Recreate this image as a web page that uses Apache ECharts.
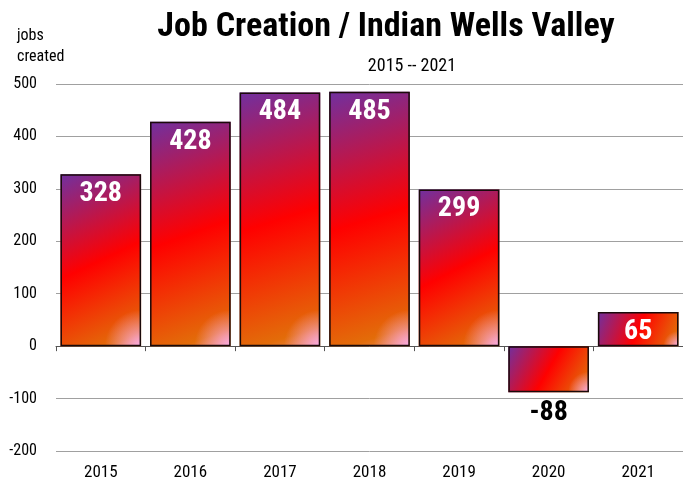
<!DOCTYPE html>
<html>
<head>
<meta charset="utf-8">
<script src="https://cdn.jsdelivr.net/npm/echarts@6/dist/echarts.min.js"></script>
<style>
  html, body { margin: 0; padding: 0; background: #fff; }
  #chart { width: 683px; height: 483px; }
</style>
</head>
<body>
<div id="chart"></div>
<script>
// 数据
const years = ['2015', '2016', '2017', '2018', '2019', '2020', '2021'];
const jobs = [328, 428, 484, 485, 299, -88, 65];
const yTicks = [-200, 500, 100]; // min, max, interval

const narrow = "'Roboto Condensed', 'Liberation Sans Narrow', 'Arial Narrow', sans-serif";

// 柱子底色：紫 -> 红 -> 橙（沿对角线）
const barFill = new echarts.graphic.LinearGradient(0, 0, 1, 1, [
  { offset: 0, color: '#7030a0' },
  { offset: 0.5, color: '#ff0000' },
  { offset: 0.93, color: '#e36c09' },
  { offset: 1, color: '#e98a50' }
]);

// 右下角的粉色光晕
const glow = new echarts.graphic.RadialGradient(1, 1, 0.45, [
  { offset: 0, color: 'rgba(250,170,228,1)' },
  { offset: 0.5, color: 'rgba(250,170,228,0.5)' },
  { offset: 1, color: 'rgba(250,170,228,0)' }
]);

const myChart = echarts.init(document.getElementById('chart'));

const option = {
  animation: false,
  title: [
    {
      text: 'Job Creation / Indian Wells Valley',
      left: 381, top: 5, textAlign: 'center',
      textStyle: { fontFamily: narrow, fontWeight: 'bold', fontSize: 34, color: '#000' }
    },
    {
      text: '2015 -- 2021',
      left: 407, top: 52, textAlign: 'center',
      textStyle: { fontFamily: narrow, fontWeight: 'normal', fontSize: 18, color: '#000' }
    },
    {
      text: 'jobs\ncreated',
      left: 12, top: 20,
      textStyle: { fontFamily: narrow, fontWeight: 'normal', fontSize: 16, lineHeight: 21, color: '#000' }
    }
  ],
  grid: { left: 56, right: 0, top: 84, bottom: 32, containLabel: false },
  xAxis: {
    type: 'category',
    data: years,
    axisLine: { onZero: true, lineStyle: { color: '#555', width: 1 } },
    axisTick: { show: true, inside: false, length: 5, lineStyle: { color: '#555' } },
    axisLabel: { color: '#000', fontFamily: narrow, fontSize: 17, margin: 13 }
  },
  yAxis: {
    type: 'value',
    min: yTicks[0], max: yTicks[1], interval: yTicks[2],
    axisLine: { show: false },
    axisTick: { show: false },
    axisLabel: { color: '#000', fontFamily: narrow, fontSize: 16, margin: 19 },
    splitLine: { lineStyle: { color: '#a0a0a0', width: 1 } }
  },
  series: [
    {
      type: 'bar',
      barCategoryGap: '10%',
      itemStyle: { color: barFill, borderWidth: 0 },
      data: jobs
    },
    {
      type: 'bar',
      barGap: '-100%',
      barCategoryGap: '10%',
      itemStyle: { color: glow, borderColor: '#1a0a0a', borderWidth: 1.5 },
      label: {
        show: true, position: 'insideTop', distance: 6,
        color: '#fff', fontFamily: narrow, fontWeight: 'bold', fontSize: 28
      },
      data: jobs.map((v) => v < 0
        ? { value: v, label: { position: 'bottom', distance: 7, color: '#000' } }
        : v)
    }
  ]
};

myChart.setOption(option);
</script>
</body>
</html>
